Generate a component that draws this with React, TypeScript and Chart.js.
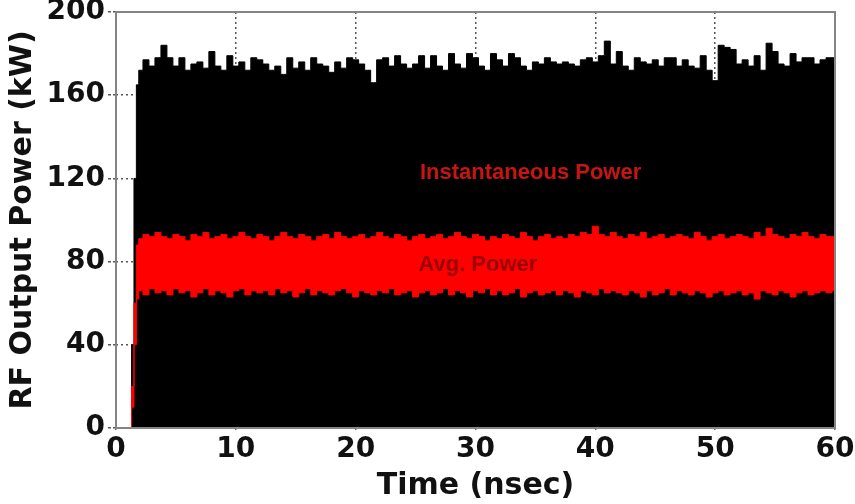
import React, { useEffect, useRef } from "react";
import { Chart, registerables } from "chart.js";

Chart.register(...registerables);

// Time samples (nsec)
const TIME = [
  0, 1.2, 1.4, 1.6, 1.8,
  2, 2.5, 3, 3.5, 4, 4.5, 5, 5.5, 6, 6.5,
  7, 7.5, 8, 8.5, 9, 9.5, 10, 10.5, 11, 11.5,
  12, 12.5, 13, 13.5, 14, 14.5, 15, 15.5, 16, 16.5,
  17, 17.5, 18, 18.5, 19, 19.5, 20, 20.5, 21, 21.5,
  22, 22.5, 23, 23.5, 24, 24.5, 25, 25.5, 26, 26.5,
  27, 27.5, 28, 28.5, 29, 29.5, 30, 30.5, 31, 31.5,
  32, 32.5, 33, 33.5, 34, 34.5, 35, 35.5, 36, 36.5,
  37, 37.5, 38, 38.5, 39, 39.5, 40, 40.5, 41, 41.5,
  42, 42.5, 43, 43.5, 44, 44.5, 45, 45.5, 46, 46.5,
  47, 47.5, 48, 48.5, 49, 49.5, 50, 50.5, 51, 51.5,
  52, 52.5, 53, 53.5, 54, 54.5, 55, 55.5, 56, 56.5,
  57, 57.5, 58, 58.5, 59, 59.5, 60,
];

// Envelope of instantaneous RF power (kW)
const INSTANTANEOUS = [
  0, 0, 40, 120, 165,
  172, 177, 174, 178, 184, 178, 174, 178, 172, 175,
  176, 173, 181, 174, 172, 179, 174, 176, 172, 178,
  177, 175, 172, 174, 170, 178, 173, 176, 172, 178,
  175, 174, 171, 176, 173, 178, 177, 175, 172, 166,
  177, 178, 174, 179, 175, 173, 175, 179, 173, 179,
  174, 172, 180, 175, 173, 180, 178, 174, 172, 180,
  177, 174, 180, 178, 174, 172, 176, 175, 178, 176,
  175, 176, 175, 174, 177, 178, 176, 179, 186, 175,
  181, 174, 172, 178, 176, 175, 177, 174, 178, 178,
  174, 177, 174, 173, 179, 172, 167, 184, 183, 182,
  175, 177, 174, 179, 172, 185, 181, 175, 174, 180,
  176, 178, 178, 175, 177, 178, 178,
];

// Average power band: upper edge (kW)
const AVG_UPPER = [
  0, 0, 20, 60, 88,
  91, 93, 92, 94, 92, 91, 93, 92, 90, 93,
  92, 94, 91, 92, 93, 91, 92, 94, 92, 91,
  93, 92, 90, 92, 94, 92, 91, 93, 92, 90,
  92, 93, 91, 94, 92, 91, 92, 93, 91, 92,
  94, 92, 91, 93, 92, 90, 92, 93, 91, 92,
  93, 91, 92, 94, 92, 91, 93, 92, 90, 92,
  91, 93, 92, 91, 94, 92, 90, 92, 93, 91,
  92, 91, 93, 92, 94, 93, 97, 93, 92, 94,
  92, 91, 93, 92, 94, 91, 92, 93, 91, 92,
  93, 92, 91, 94, 92, 90, 92, 93, 91, 92,
  93, 92, 91, 94, 92, 96, 93, 92, 91, 93,
  92, 94, 92, 91, 93, 92, 92,
];

// Average power band: lower edge (kW)
const AVG_LOWER = [
  0, 0, 10, 40, 62,
  66, 64, 67, 65, 66, 64, 67, 65, 66, 63,
  65, 67, 64, 66, 65, 63, 66, 67, 64, 66,
  65, 66, 64, 67, 65, 66, 63, 65, 67, 64,
  66, 65, 64, 66, 67, 65, 63, 66, 65, 64,
  66, 65, 67, 64, 65, 66, 63, 65, 66, 64,
  65, 67, 64, 66, 65, 63, 66, 65, 67, 64,
  66, 64, 65, 67, 63, 65, 66, 64, 65, 66,
  64, 66, 65, 63, 66, 65, 64, 67, 65, 66,
  65, 64, 66, 65, 63, 66, 64, 65, 67, 64,
  66, 65, 64, 66, 65, 63, 65, 66, 64, 65,
  66, 64, 65, 62, 66, 65, 64, 66, 65, 63,
  65, 66, 64, 65, 66, 65, 66,
];

const X_TICKS = [0, 10, 20, 30, 40, 50, 60];
const Y_TICKS = [0, 40, 80, 120, 160, 200];

const X_TITLE = "Time (nsec)";
const Y_TITLE = "RF Output Power (kW)";
const INST_LABEL = "Instantaneous Power";
const AVG_LABEL = "Avg. Power";

const toPoints = (vals: number[]) => vals.map((v, i) => ({ x: TIME[i], y: v }));

const overlayPlugin = {
  id: "overlay",
  afterDatasetsDraw(chart: any) {
    const { ctx, chartArea, scales } = chart;
    const { x, y } = scales;
    ctx.save();
    ctx.font = 'bold 22px "Liberation Sans", Arial, sans-serif';
    ctx.textAlign = "center";
    ctx.textBaseline = "middle";
    ctx.fillStyle = "#c81414";
    ctx.fillText(INST_LABEL, x.getPixelForValue(34.6), y.getPixelForValue(122.6));
    ctx.fillStyle = "#9a0000";
    ctx.fillText(AVG_LABEL, x.getPixelForValue(30.2), y.getPixelForValue(78.4));
    // solid frame around the plot area
    ctx.strokeStyle = "#858585";
    ctx.lineWidth = 2;
    ctx.setLineDash([]);
    ctx.strokeRect(chartArea.left, chartArea.top, chartArea.right - chartArea.left, chartArea.bottom - chartArea.top);
    ctx.restore();
  },
};

const tickFont = { family: '"DejaVu Sans", sans-serif', weight: "bold" as const, size: 28, lineHeight: 1 };
const titleFont = { family: '"DejaVu Sans", sans-serif', weight: "bold" as const, size: 30, lineHeight: 1.2 };

export default function App() {
  const ref = useRef<HTMLCanvasElement | null>(null);

  useEffect(() => {
    if (!ref.current) return;
    const chart = new Chart(ref.current, {
      type: "line",
      data: {
        datasets: [
          {
            label: "Instantaneous Power",
            data: toPoints(INSTANTANEOUS),
            borderColor: "#000000",
            backgroundColor: "#000000",
            borderWidth: 1,
            fill: "origin",
            stepped: "middle",
            pointRadius: 0,
            order: 10,
          },
          {
            label: "Avg lower",
            data: toPoints(AVG_LOWER),
            borderColor: "#ff0000",
            borderWidth: 1,
            fill: false,
            stepped: "middle",
            pointRadius: 0,
            order: 2,
          },
          {
            label: "Avg. Power",
            data: toPoints(AVG_UPPER),
            borderColor: "#ff0000",
            backgroundColor: "#ff0000",
            borderWidth: 1,
            fill: "-1",
            stepped: "middle",
            pointRadius: 0,
            order: 1,
          },
        ],
      },
      options: {
        responsive: false,
        animation: false,
        events: [],
        layout: { padding: { top: 12, right: 20, left: 0, bottom: 0 } },
        plugins: { legend: { display: false }, tooltip: { enabled: false } },
        scales: {
          x: {
            type: "linear",
            min: 0,
            max: 60,
            afterBuildTicks: (s: any) => {
              s.ticks = X_TICKS.map((v) => ({ value: v }));
            },
            afterFit: (s: any) => {
              s.height = 76;
              s.paddingLeft = 0;
              s.paddingRight = 0;
            },
            ticks: { font: tickFont, color: "#111", padding: 4, maxRotation: 0, autoSkip: false },
            grid: {
              color: (c: any) => (c.tick && (c.tick.value === 0 || c.tick.value === 60) ? "rgba(0,0,0,0)" : "#555"),
              lineWidth: 1.5,
              tickLength: 4,
              tickBorderDash: [2, 2],
              tickColor: "#666",
            },
            border: { display: false, dash: [2, 3] },
            title: { display: true, text: X_TITLE, font: titleFont, color: "#111", padding: { top: 0, bottom: 0 } },
          },
          y: {
            type: "linear",
            min: 0,
            max: 200,
            afterBuildTicks: (s: any) => {
              s.ticks = Y_TICKS.map((v) => ({ value: v }));
            },
            afterFit: (s: any) => {
              s.width = 116;
              s.paddingTop = 0;
              s.paddingBottom = 0;
            },
            ticks: { font: tickFont, color: "#111", padding: 3, autoSkip: false },
            grid: {
              color: (c: any) => (c.tick && (c.tick.value === 0 || c.tick.value === 200) ? "rgba(0,0,0,0)" : "#555"),
              lineWidth: 1.5,
              tickLength: 8,
              tickBorderDash: [3, 2],
              tickColor: "#555",
            },
            border: { display: false, dash: [2, 3] },
            title: { display: true, text: Y_TITLE, font: titleFont, color: "#111", padding: { top: 5, bottom: 0 } },
          },
        },
      },
      plugins: [overlayPlugin],
    });
    return () => chart.destroy();
  }, []);

  return (
    <div style={{ position: "absolute", left: 0, top: 0, width: 855, height: 504, background: "#fff" }}>
      <canvas ref={ref} width={855} height={504} style={{ display: "block" }} />
    </div>
  );
}
